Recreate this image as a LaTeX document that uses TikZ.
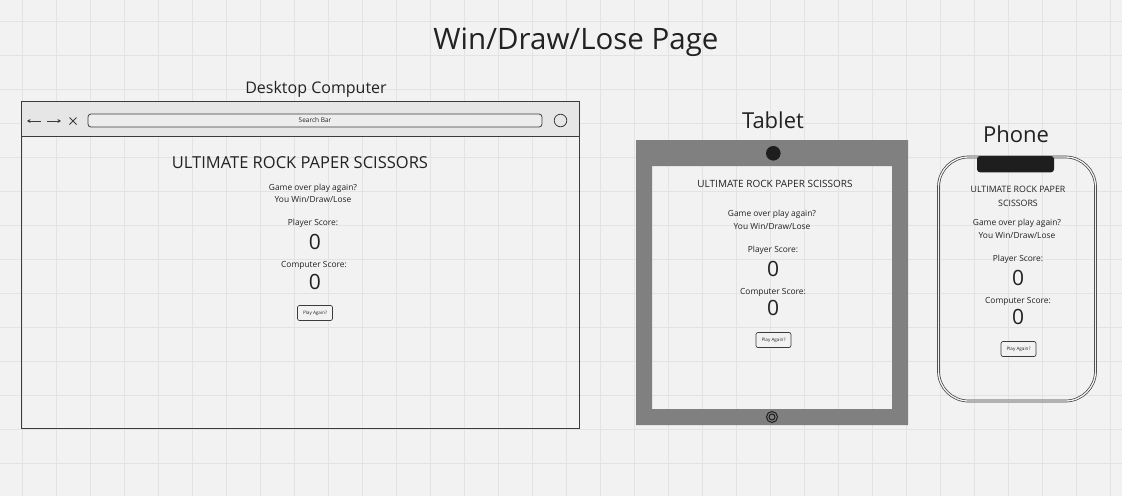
\documentclass[tikz,border=0pt]{standalone}
\usepackage{fontspec}
\setmainfont{Open Sans}
\usetikzlibrary{arrows.meta}
\definecolor{paper}{HTML}{F2F2F2}
\definecolor{gridline}{HTML}{E3E3E3}
\definecolor{ink}{HTML}{222222}
\definecolor{edge}{HTML}{3C3C3C}
\definecolor{barfill}{HTML}{E6E6E6}
\definecolor{bezel}{HTML}{808080}
\definecolor{dark}{HTML}{1E1E1E}
\begin{document}
\begin{tikzpicture}[x=1pt,y=-1pt,
  % text placed by the middle of its capital height
  lbl/.style={inner sep=0pt, text=ink, anchor=base, yshift={-0.36*#1pt},
              font=\fontsize{#1}{#1}\selectfont},
  btn/.style={draw=edge, line width=0.7pt, rounded corners=2pt, fill=paper,
              minimum width=35pt, minimum height=15pt, inner sep=0pt, text=ink,
              font=\fontsize{4.6}{5}\selectfont}]
% canvas and grid
\fill[paper] (0,0) rectangle (1122,496);
\useasboundingbox (0,0) rectangle (1122,496);
\foreach \i in {0,...,32} \draw[gridline, line width=0.8pt] (22.7+34*\i,0) -- (22.7+34*\i,496);
\foreach \j in {0,...,14} \draw[gridline, line width=0.8pt] (0,21+34*\j) -- (1122,21+34*\j);

% page title
\node[lbl=29.5] (title) at (576,39) {Win/Draw/Lose Page};

% ---------------- desktop ----------------
\node[lbl=16] (dlabel) at (316,87.5) {Desktop Computer};
\draw[edge, line width=0.9pt] (21,101) rectangle (579,428);
\filldraw[fill=barfill, draw=edge, line width=0.9pt] (21,101) rectangle (579,136);
\draw[edge, line width=1pt, -{Stealth[length=3.5pt,width=4pt]}] (41,121) -- (27,121);
\draw[edge, line width=1pt, -{Stealth[length=3.5pt,width=4pt]}] (47,121) -- (61,121);
\draw[edge, line width=0.8pt] (69.5,117.5) -- (76.5,124.5) (69.5,124.5) -- (76.5,117.5);
\draw[edge, line width=0.8pt, fill=paper!60!barfill, rounded corners=3pt] (88,114) rectangle (542,127);
\node[lbl=6.5] (search) at (315,120.5) {Search Bar};
\draw[edge, line width=0.8pt] (560.5,120.5) circle (6.3);

\node[lbl=16.5] (dhead) at (300,163) {ULTIMATE ROCK PAPER SCISSORS};
\node[lbl=8.4] (dgame) at (313,187) {Game over play again?};
\node[lbl=8.4] (dwin) at (313,199) {You Win/Draw/Lose};
\node[lbl=8.4] (dps) at (313,222) {Player Score:};
\node[lbl=21] (dp0) at (315,242) {0};
\node[lbl=8.4] (dcs) at (314,264) {Computer Score:};
\node[lbl=21] (dc0) at (315,281.5) {0};
\node[btn] (dbtn) at (315,313) {Play Again?};

% ---------------- tablet ----------------
\node[lbl=22] (tlabel) at (773,121) {Tablet};
\fill[bezel, even odd rule] (636,140) rectangle (908,425) (652,166) rectangle (892,409);
\fill[dark] (773.3,153.3) circle (7.3);
\draw[dark, line width=1pt] (772,417) circle (5.5) (772,417) circle (3);

\node[lbl=10] (thead) at (775,184) {ULTIMATE ROCK PAPER SCISSORS};
\node[lbl=8.4] (tgame) at (772,213.5) {Game over play again?};
\node[lbl=8.4] (twin) at (772,226) {You Win/Draw/Lose};
\node[lbl=8.4] (tps) at (773,249.5) {Player Score:};
\node[lbl=21] (tp0) at (773,269) {0};
\node[lbl=8.4] (tcs) at (773,291) {Computer Score:};
\node[lbl=21] (tc0) at (773,308) {0};
\node[btn] (tbtn) at (773.5,340) {Play Again?};

% ---------------- phone ----------------
\node[lbl=22] (plabel) at (1016,135) {Phone};
\draw[edge, line width=0.7pt, double=paper, double distance=1.3pt, rounded corners=30pt]
  (938.5,157) rectangle (1095.5,401);
\fill[dark, rounded corners=3pt] (977,156) -- (977,172.3) -- (1054,172.3) -- (1054,156) -- cycle;

\node[lbl=8.8] (phead1) at (1018,189.5) {ULTIMATE ROCK PAPER};
\node[lbl=8.8] (phead2) at (1018,203) {SCISSORS};
\node[lbl=8.4] (pgame) at (1017,222.5) {Game over play again?};
\node[lbl=8.4] (pwin) at (1017,235) {You Win/Draw/Lose};
\node[lbl=8.4] (pps) at (1018,258.5) {Player Score:};
\node[lbl=21] (pp0) at (1018,278) {0};
\node[lbl=8.4] (pcs) at (1018,300) {Computer Score:};
\node[lbl=21] (pc0) at (1018,317) {0};
\node[btn] (pbtn) at (1018.5,349) {Play Again?};
\end{tikzpicture}
\end{document}
